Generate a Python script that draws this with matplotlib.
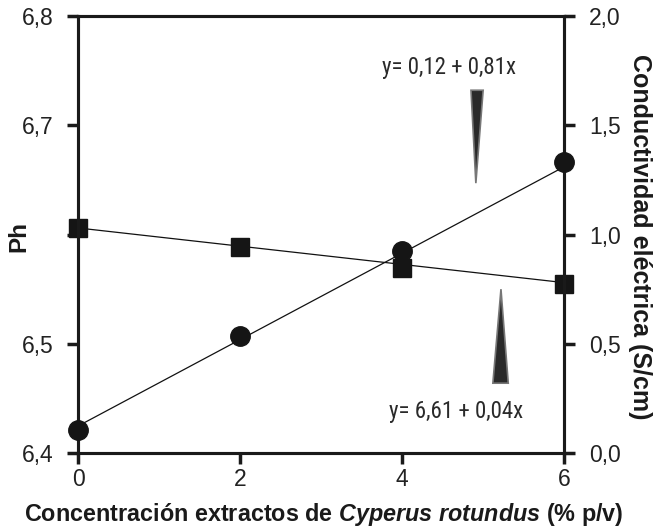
import matplotlib
matplotlib.use("Agg")
import matplotlib.pyplot as plt
from matplotlib.patches import Polygon
from matplotlib import font_manager

plt.rcParams['font.family'] = ['Liberation Sans', 'DejaVu Sans']
plt.rcParams['mathtext.fontset'] = 'custom'
plt.rcParams['mathtext.it'] = 'Liberation Sans:italic:bold'
plt.rcParams['mathtext.rm'] = 'Liberation Sans:bold'

# Data
conc = [0, 2, 4, 6]
ph_values = [6.606, 6.589, 6.569, 6.555]
cond_values = [0.105, 0.535, 0.924, 1.332]
# regression lines (endpoints)
fit_x = [0, 6]
ph_fit = [6.606, 6.556]
cond_fit = [0.124, 1.31]

x_ticks = [0, 2, 4, 6]
x_ticklabels = ['0', '2', '4', '6']
ph_ticks = [6.4, 6.5, 6.6, 6.7, 6.8]
ph_ticklabels = ['6,4', '6,5', '', '6,7', '6,8']
cond_ticks = [0.0, 0.5, 1.0, 1.5, 2.0]
cond_ticklabels = ['0,0', '0,5', '1,0', '1,5', '2,0']

eq_cond = 'y= 0,12 + 0,81x'
eq_ph = 'y= 6,61 + 0,04x'

# pick a narrow sans font for the equations if one is installed
names = {f.name for f in font_manager.fontManager.ttflist}
preferred = ['Liberation Sans Narrow', 'Arial Narrow', 'Roboto Condensed',
             'Noto Sans Condensed', 'Open Sans Condensed',
             'DejaVu Sans Condensed']
narrow = next((n for n in preferred if n in names), None)
if narrow is None:
    others = sorted(n for n in names if ('Narrow' in n or 'Condensed' in n)
                    and 'Mono' not in n and 'Serif' not in n)
    narrow = others[0] if others else None
if narrow is not None:
    eq_family, eq_size = [narrow, 'DejaVu Sans'], 16.5
else:
    eq_family, eq_size = ['Liberation Sans', 'DejaVu Sans'], 14.5

fig = plt.figure(figsize=(6.56, 5.30), dpi=100)
ax = fig.add_axes([0.119, 0.145, 0.741, 0.825])
ax2 = ax.twinx()

ax.set_xlim(0, 6)
ax.set_ylim(6.4, 6.8)
ax2.set_ylim(0.0, 2.0)

ax.plot(fit_x, ph_fit, color='#111111', lw=0.9, zorder=3)
ax.plot(conc, ph_values, linestyle='none', marker='s', markersize=12.5,
        color='#151515', clip_on=False, zorder=4)
ax2.plot(fit_x, cond_fit, color='#111111', lw=0.9, zorder=3)
ax2.plot(conc, cond_values, linestyle='none', marker='o', markersize=14,
         color='#151515', clip_on=False, zorder=4)

for a in (ax, ax2):
    for s in a.spines.values():
        s.set_linewidth(2.2)
        s.set_color('#1a1a1a')

ax.set_xticks(x_ticks)
ax.set_xticklabels(x_ticklabels)
ax.set_yticks(ph_ticks)
ax.set_yticklabels(ph_ticklabels)
ax2.set_yticks(cond_ticks)
ax2.set_yticklabels(cond_ticklabels)

ax.tick_params(axis='x', direction='out', length=8, width=2.5,
               labelsize=16.5, colors='#1a1a1a', pad=3)
ax.tick_params(axis='y', direction='out', length=8, width=2.5,
               labelsize=16.5, colors='#1a1a1a', pad=9.5)
ax2.tick_params(axis='y', direction='out', length=8, width=2.5,
                labelsize=16.5, colors='#1a1a1a', pad=10)
for lab in ax.get_xticklabels() + ax.get_yticklabels() + ax2.get_yticklabels():
    lab.set_color('#222222')

fig.text(19 / 656, 1 - 237 / 530, 'Ph', fontsize=17.5, fontweight='bold',
         rotation=90, ha='center', va='center', color='#1a1a1a')
fig.text(640 / 656, 1 - 237 / 530, 'Conductividad eléctrica (S/cm)',
         fontsize=18, fontweight='bold', rotation=-90,
         ha='center', va='center', color='#1a1a1a')
fig.text(324 / 656, 1 - 514 / 530,
         r'Concentración extractos de $\it{Cyperus}$ $\it{rotundus}$ (% p/v)',
         fontsize=16.8, fontweight='bold', ha='center', va='center',
         color='#1a1a1a')

# equations
ax.text(4.58, 6.753, eq_cond, fontsize=eq_size, family=eq_family,
        fontweight='normal', ha='center', va='center', color='#2a2a2a')
ax.text(4.67, 6.438, eq_ph, fontsize=eq_size, family=eq_family,
        fontweight='normal', ha='center', va='center', color='#2a2a2a')

# wedges
w1 = Polygon([[4.85, 6.732], [5.0, 6.732], [4.91, 6.647]], closed=True,
             facecolor='#2a2a2a', edgecolor='#777777', lw=1.2, zorder=5)
w2 = Polygon([[5.12, 6.464], [5.31, 6.464], [5.22, 6.55]], closed=True,
             facecolor='#2a2a2a', edgecolor='#777777', lw=1.2, zorder=5)
ax.add_patch(w1)
ax.add_patch(w2)

fig.savefig('out.png', dpi=100)
